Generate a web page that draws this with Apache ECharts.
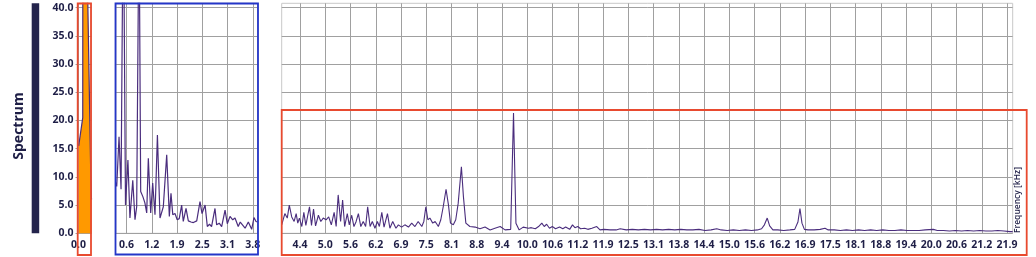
<!DOCTYPE html>
<html>
<head>
<meta charset="utf-8">
<title>Spectrum</title>
<script src="https://cdn.jsdelivr.net/npm/echarts@6.0.0/dist/echarts.min.js"></script>
<style>
  html, body { margin: 0; padding: 0; background: #fff; }
  #chart { width: 1036px; height: 257px; }
</style>
</head>
<body>
<div id="chart"></div>
<script>
// frequency in kHz, level on the spectrum scale
const overviewData = [[0.005, 15.5], [0.105, 20.5], [0.112, 120], [0.2, 120], [0.23, 41], [0.302, 11.2], [0.322, 6]]

const midData = [
  [0.365, 9.0], [0.383, 8.3], [0.44, 17.1], [0.49, 7.8], [0.546, 62], [0.6, 5.0], [0.66, 13.0],
  [0.71, 2.7], [0.78, 9.4], [0.835, 2.4], [0.877, 4.7], [0.935, 58], [0.976, 7.4], [1.03, 6.5],
  [1.08, 5.4], [1.125, 3.6], [1.165, 13.3], [1.224, 3.6], [1.273, 8.9], [1.33, 3.3], [1.39, 17.4],
  [1.454, 2.7], [1.536, 4.7], [1.62, 13.9], [1.685, 3.0], [1.726, 7.1], [1.77, 3.3], [1.825, 3.5],
  [1.88, 2.4], [1.93, 2.6], [1.99, 5.0], [2.03, 2.1], [2.098, 4.4], [2.155, 2.2], [2.22, 2.0],
  [2.28, 1.9], [2.363, 2.2], [2.444, 5.6], [2.494, 3.5], [2.57, 5.0], [2.625, 1.2], [2.68, 1.6],
  [2.73, 1.2], [2.815, 4.4], [2.856, 1.5], [2.92, 1.8], [2.98, 1.2], [3.064, 4.1], [3.12, 1.7],
  [3.187, 3.0], [3.254, 2.4], [3.31, 2.7], [3.39, 1.2], [3.44, 2.0], [3.477, 2.2], [3.56, 0.9],
  [3.64, 2.0], [3.723, 0.7], [3.78, 2.8], [3.83, 2.1], [3.867, 2.0]
]

const mainData = [
  [3.922, 1.5], [3.95, 1.8], [4.0, 3.5], [4.06, 2.7], [4.11, 5.0], [4.17, 2.9], [4.23, 2.1],
  [4.28, 3.5], [4.32, 1.8], [4.36, 2.7], [4.42, 1.2], [4.47, 3.7], [4.52, 1.4], [4.56, 2.9],
  [4.61, 4.7], [4.66, 1.4], [4.71, 4.3], [4.76, 1.3], [4.83, 3.2], [4.89, 2.1], [4.95, 2.7],
  [5.02, 2.4], [5.085, 2.9], [5.15, 1.5], [5.22, 3.7], [5.27, 1.2], [5.32, 6.8], [5.38, 2.1],
  [5.43, 5.9], [5.48, 1.2], [5.545, 3.5], [5.595, 1.5], [5.655, 3.2], [5.71, 1.2], [5.76, 2.0],
  [5.82, 3.5], [5.88, 1.2], [5.94, 2.1], [6.0, 1.2], [6.05, 4.7], [6.11, 1.2], [6.165, 2.1],
  [6.23, 0.9], [6.29, 2.1], [6.34, 1.2], [6.4, 3.7], [6.455, 1.1], [6.54, 3.5], [6.6, 0.9],
  [6.67, 2.1], [6.75, 0.9], [6.81, 1.5], [6.89, 1.1], [6.97, 1.5], [7.06, 1.1], [7.14, 1.8],
  [7.22, 1.2], [7.3, 2.1], [7.39, 1.2], [7.44, 2.1], [7.49, 4.7], [7.54, 2.4], [7.59, 2.7],
  [7.66, 1.8], [7.72, 2.1], [7.8, 1.2], [7.86, 2.4], [7.92, 4.7], [7.99, 7.8], [8.05, 5.0],
  [8.1, 1.8], [8.17, 1.5], [8.23, 2.4], [8.29, 5.3], [8.37, 11.8], [8.42, 6.5], [8.48, 1.8],
  [8.58, 1.2], [8.71, 1.1], [8.83, 0.8], [8.955, 1.1], [9.08, 0.6], [9.2, 0.9], [9.33, 1.2],
  [9.45, 0.6], [9.59, 0.7], [9.66, 21.3], [9.72, 1.8], [9.8, 0.6], [9.9, 1.1], [10.03, 0.9],
  [10.1, 1.0], [10.2, 0.8], [10.28, 1.2], [10.36, 1.8], [10.42, 1.2], [10.48, 1.6], [10.55, 0.9],
  [10.62, 1.2], [10.7, 0.8], [10.8, 1.1], [10.88, 0.8], [10.95, 1.1], [11.05, 0.7], [11.12, 1.5],
  [11.18, 1.0], [11.25, 1.2], [11.32, 0.8], [11.42, 0.9], [11.5, 0.7], [11.6, 0.9], [11.72, 1.2],
  [11.8, 0.6], [11.9, 0.7], [12.05, 0.6], [12.2, 0.6], [12.3, 0.8], [12.45, 0.6], [12.6, 0.7],
  [12.75, 0.6], [12.9, 0.7], [13.05, 0.6], [13.2, 0.7], [13.35, 0.6], [13.5, 0.7], [13.65, 0.6],
  [13.8, 0.7], [13.95, 0.6], [14.1, 0.6], [14.25, 0.7], [14.4, 0.5], [14.55, 0.6], [14.69, 0.8],
  [14.8, 0.6], [14.95, 0.5], [15.1, 0.6], [15.25, 0.5], [15.4, 0.6], [15.55, 0.5], [15.7, 0.6],
  [15.8, 0.8], [15.87, 1.5], [15.94, 2.7], [16.0, 1.3], [16.08, 0.6], [16.2, 0.6], [16.35, 0.5],
  [16.5, 0.6], [16.62, 0.7], [16.7, 2.0], [16.75, 4.4], [16.8, 1.8], [16.86, 0.7], [16.95, 0.6],
  [17.1, 0.6], [17.25, 0.7], [17.37, 0.9], [17.45, 0.6], [17.6, 0.6], [17.75, 0.5], [17.9, 0.6],
  [18.05, 0.5], [18.2, 0.6], [18.35, 0.5], [18.5, 0.6], [18.65, 0.5], [18.8, 0.6], [18.95, 0.5],
  [19.1, 0.5], [19.25, 0.6], [19.4, 0.5], [19.55, 0.5], [19.7, 0.5], [19.85, 0.6], [20.05, 0.7],
  [20.15, 0.5], [20.3, 0.5], [20.45, 0.4], [20.6, 0.5], [20.75, 0.4], [20.9, 0.5], [21.05, 0.4],
  [21.2, 0.5], [21.35, 0.4], [21.5, 0.4], [21.65, 0.5], [21.8, 0.4], [21.95, 0.3], [22.016, 0.3]
]

// tick positions and the labels printed under them
const overviewTicks = [0]
const overviewLabels = ['0.0']
const midTicks = [0.625, 1.25, 1.875, 2.5, 3.125, 3.75]
const midLabels = ['0.6', '1.2', '1.9', '2.5', '3.1', '3.8']
const mainTicks = [4.375, 5, 5.625, 6.25, 6.875, 7.5, 8.125, 8.75, 9.375, 10, 10.625, 11.25, 11.875,
  12.5, 13.125, 13.75, 14.375, 15, 15.625, 16.25, 16.875, 17.5, 18.125, 18.75, 19.375, 20, 20.625,
  21.25, 21.875]
const mainLabels = ['4.4', '5.0', '5.6', '6.2', '6.9', '7.5', '8.1', '8.8', '9.4', '10.0', '10.6', '11.2',
  '11.9', '12.5', '13.1', '13.8', '14.4', '15.0', '15.6', '16.2', '16.9', '17.5', '18.1', '18.8', '19.4',
  '20.0', '20.6', '21.2', '21.9']
const yTicks = [0, 5, 10, 15, 20, 25, 30, 35, 40]
const yLabels = ['0.0', '5.0', '10.0', '15.0', '20.0', '25.0', '30.0', '35.0', '40.0']

const ink = '#1e1e46'
const gridLine = '#a0a0a0'
const trace = '#4a2d7d'
const labelFont = { color: ink, fontFamily: 'Open Sans', fontWeight: 'bold', fontSize: 10.5 }

function lookup(ticks, labels) {
  return function(v) {
    const i = ticks.findIndex((t) => Math.abs(t - v) < 1e-6)
    return i < 0 ? '' : labels[i]
  }
}

function xAxis(gridIndex, min, max, ticks, labels) {
  return {
    type: 'value',
    gridIndex: gridIndex,
    min: min,
    max: max,
    axisLine: { show: false },
    axisTick: { show: false, customValues: ticks },
    axisLabel: Object.assign({ customValues: ticks, margin: 6, formatter: lookup(ticks, labels) }, labelFont),
    splitLine: { show: true, lineStyle: { color: gridLine, width: 1 } }
  }
}

function yAxis(gridIndex, withLabels) {
  return {
    type: 'value',
    gridIndex: gridIndex,
    min: 0,
    max: 40.75,
    axisLine: { show: false },
    axisTick: { show: withLabels, length: 3, customValues: yTicks, lineStyle: { color: gridLine } },
    axisLabel: Object.assign({
      show: withLabels, customValues: yTicks, margin: 5, formatter: lookup(yTicks, yLabels)
    }, labelFont),
    splitLine: { show: true, lineStyle: { color: gridLine, width: 1 } }
  }
}

function gridBox(left, width) {
  return { left: left, top: 3.3, width: width, height: 230, show: true, borderColor: '#c8c8c8', borderWidth: 1 }
}

function frame(x, y, w, h, color) {
  return {
    type: 'rect', z: 100, silent: true,
    shape: { x: x, y: y, width: w, height: h },
    style: { fill: 'none', stroke: color, lineWidth: 1.8 }
  }
}

const chart = echarts.init(document.getElementById('chart'))

chart.setOption({
  animation: false,
  grid: [gridBox(78.5, 13), gridBox(116, 141.5), gridBox(281.7, 731)],
  xAxis: [
    xAxis(0, 0, 0.322, overviewTicks, overviewLabels),
    xAxis(1, 0.365, 3.867, midTicks, midLabels),
    xAxis(2, 3.922, 22.016, mainTicks, mainLabels)
  ],
  yAxis: [yAxis(0, true), yAxis(1, false), yAxis(2, false)],
  series: [{
    type: 'line',
    xAxisIndex: 0,
    yAxisIndex: 0,
    data: overviewData,
    showSymbol: false,
    lineStyle: { color: trace, width: 1.2 },
    areaStyle: { color: '#ff9900', opacity: 1 }
  }, {
    type: 'line',
    xAxisIndex: 1,
    yAxisIndex: 1,
    data: midData,
    showSymbol: false,
    lineStyle: { color: trace, width: 1.2 }
  }, {
    type: 'line',
    xAxisIndex: 2,
    yAxisIndex: 2,
    data: mainData,
    showSymbol: false,
    lineStyle: { color: trace, width: 1.1 }
  }],
  graphic: [
    {
      type: 'rect', silent: true,
      shape: { x: 31.7, y: 3.3, width: 7.5, height: 230 },
      style: { fill: '#24244c' }
    },
    {
      type: 'text', silent: true,
      x: 19, y: 126, rotation: Math.PI / 2,
      style: {
        text: 'Spectrum', fill: ink, font: 'bold 14px "Open Sans"',
        textAlign: 'center', textVerticalAlign: 'middle'
      }
    },
    {
      type: 'text', silent: true,
      x: 1018, y: 200, rotation: Math.PI / 2,
      style: {
        text: 'Frequency [kHz]', fill: ink, font: '600 8.5px "Open Sans"',
        textAlign: 'center', textVerticalAlign: 'middle'
      }
    },
    frame(77.7, 3.5, 13.3, 251.5, '#e84a2f'),
    frame(115.5, 3.5, 142.5, 251, '#2436c8'),
    frame(281.7, 110, 745, 145, '#e84a2f')
  ]
})
</script>
</body>
</html>
